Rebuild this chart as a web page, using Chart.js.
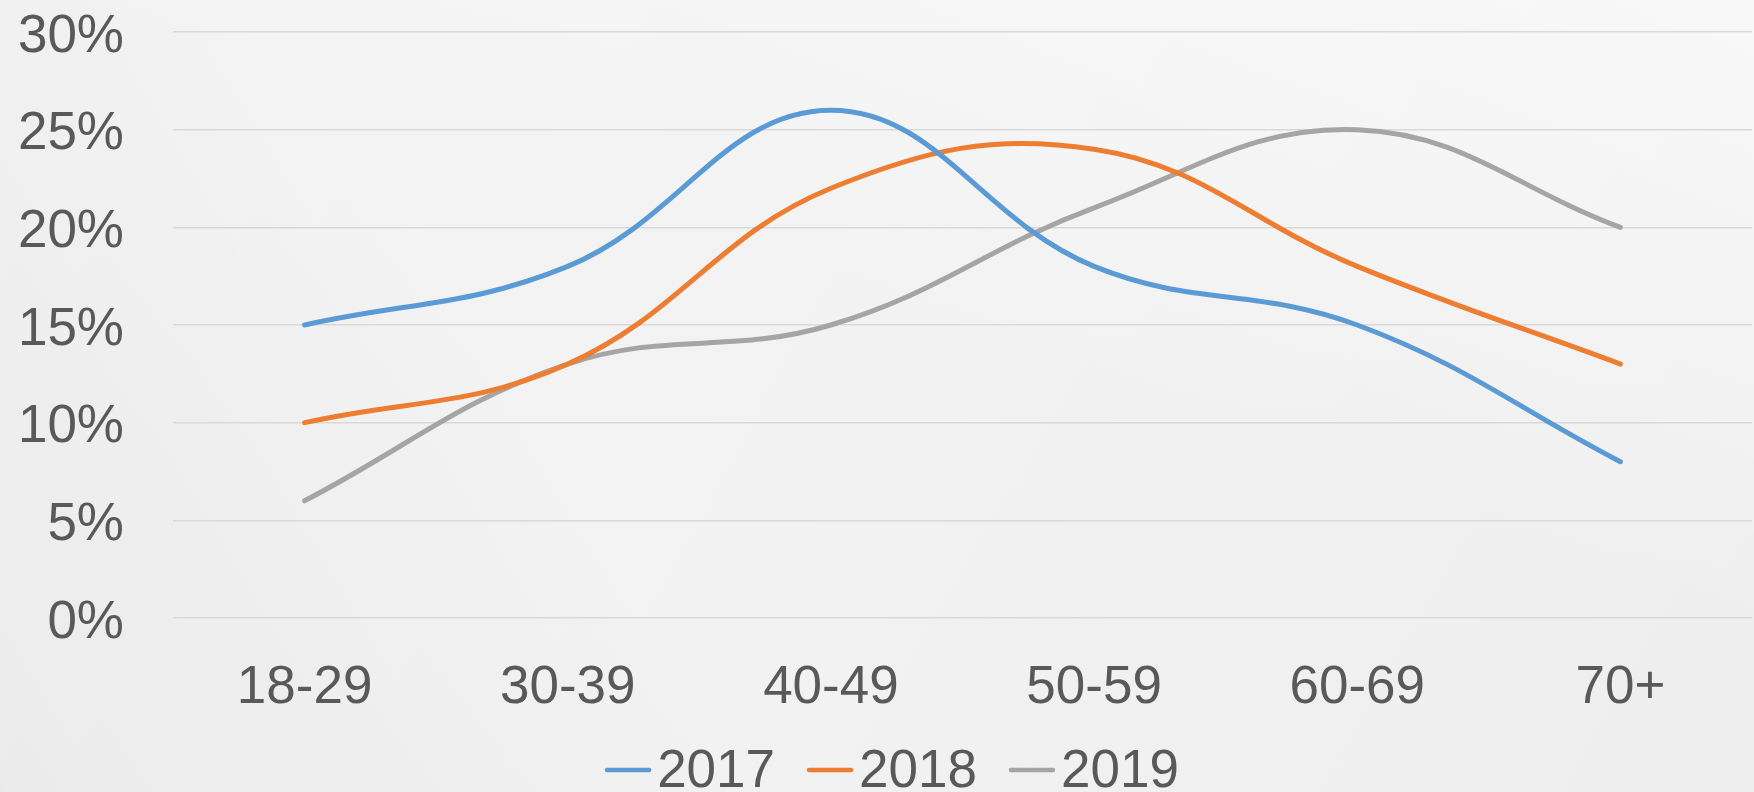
<!DOCTYPE html>
<html>
<head>
<meta charset="utf-8">
<script src="https://cdn.jsdelivr.net/npm/chart.js@4/dist/chart.umd.min.js"></script>
<style>
	html, body { margin: 0; padding: 0; }
	body
	{
		width: 1754px;
		height: 792px;
		overflow: hidden;
		background:
			linear-gradient(200deg, rgba(255,255,255,0.55) 0%, rgba(255,255,255,0) 45%),
			linear-gradient(60deg, rgba(0,0,0,0.035) 0%, rgba(0,0,0,0) 35%),
			linear-gradient(120deg, #f4f4f4 0%, #f2f2f2 50%, #eeeeee 100%);
	}
	#wrap { position: relative; width: 1754px; height: 792px; }
</style>
</head>
<body>
<div id="wrap"><canvas id="age-chart" width="1754" height="792"></canvas></div>
<script>
/* Age groups on the x axis. */
const ageGroups = ["18-29", "30-39", "40-49", "50-59", "60-69", "70+"];

/* Share per age group, in percent. */
const share2017 = [15, 18, 26, 18, 15, 8];
const share2018 = [10, 13, 22, 24, 18, 13];
const share2019 = [6, 13, 15, 21, 25, 20];

/* Series names and colours. */
const seriesNames = ["2017", "2018", "2019"];
const seriesColors = ["#5B9BD5", "#ED7D31", "#A5A5A5"];

const textColor = "#595959";
const fontFamily = "'Liberation Sans', Arial, sans-serif";
const fontSize = 53;

/* Legend drawn the Excel way: short line, tight gap, text. */
const bottomLegend =
{
	id: "bottomLegend",
	afterDraw(chart)
	{
		const ctx = chart.ctx;
		const lineLen = 46, gapText = 6, gapItem = 32;
		ctx.save();
		ctx.font = `${fontSize}px ${fontFamily}`;
		ctx.textBaseline = "middle";
		const items = chart.data.datasets.map((ds) => ({
			label: ds.label,
			color: ds.borderColor,
			width: lineLen + gapText + ctx.measureText(ds.label).width,
		}));
		const total = items.reduce((a, it) => a + it.width, 0) + gapItem * (items.length - 1);
		let x = 892 - total / 2;
		const y = 770;
		items.forEach((it) => {
			ctx.strokeStyle = it.color;
			ctx.lineWidth = 4.5;
			ctx.lineCap = "round";
			ctx.beginPath();
			ctx.moveTo(x + 2, y);
			ctx.lineTo(x + lineLen - 2, y);
			ctx.stroke();
			ctx.fillStyle = textColor;
			ctx.fillText(it.label, x + lineLen + gapText, y + 2);
			x += it.width + gapItem;
		});
		ctx.restore();
	},
};

const ageChart = new Chart(

	document.getElementById("age-chart"),
	{
		type: "line",
		data:
		{
			labels: ageGroups,
			datasets:
			[
				{ label: seriesNames[0], data: share2017, borderColor: seriesColors[0], backgroundColor: seriesColors[0] },
				{ label: seriesNames[1], data: share2018, borderColor: seriesColors[1], backgroundColor: seriesColors[1] },
				{ label: seriesNames[2], data: share2019, borderColor: seriesColors[2], backgroundColor: seriesColors[2] },
			],
		},
		options:
		{
			responsive: false,
			animation: false,
			devicePixelRatio: 1,
			layout:
			{
				padding: { left: 0, right: 2, top: 0, bottom: 74 },
			},
			elements:
			{
				line: { borderWidth: 5, tension: 0.4, borderCapStyle: "round", fill: false },
				point: { radius: 0, hoverRadius: 0 },
			},
			scales:
			{
				x:
				{
					offset: true,
					grid: { display: false },
					border: { display: false },
					ticks:
					{
						color: textColor,
						font: { family: fontFamily, size: fontSize },
						padding: 31,
						maxRotation: 0,
					},
					afterFit: (scale) => { scale.height = 100; },
				},
				y:
				{
					min: 0,
					max: 30,
					grid: { color: "#d9d9d9", lineWidth: 1.5, drawTicks: false },
					border: { display: false },
					ticks:
					{
						stepSize: 5,
						color: textColor,
						font: { family: fontFamily, size: fontSize },
						padding: 49,
						labelOffset: 5,
						callback: (v) => `${v}%`,
					},
					afterFit: (scale) => {
						scale.width = 173;
						scale.paddingTop = 32;
						scale.paddingBottom = 0;
					},
				},
			},
			plugins:
			{
				legend: { display: false },
				tooltip: { enabled: false },
			},
		},
		plugins: [bottomLegend],
	}
)
</script>
</body>
</html>
